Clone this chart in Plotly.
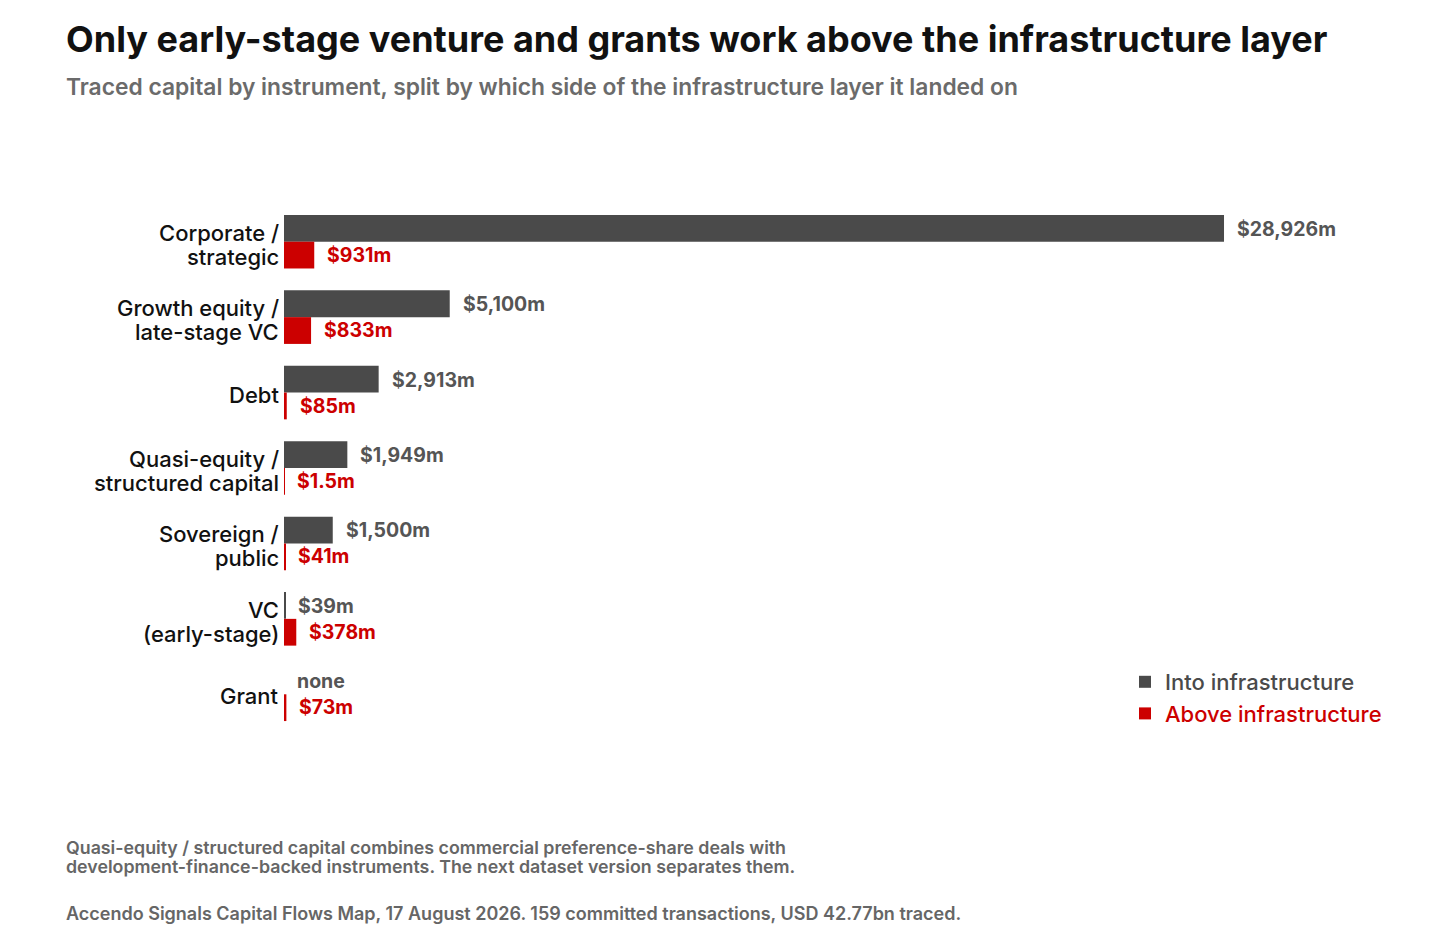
import plotly.graph_objects as go

# datos (millones USD)
instrumentos = ["Corporate / strategic", "Growth equity / late-stage VC", "Debt",
                "Quasi-equity / structured capital", "Sovereign / public",
                "VC (early-stage)", "Grant"]
etiquetas_eje = [["Corporate /", "strategic"], ["Growth equity /", "late-stage VC"], ["Debt"],
                 ["Quasi-equity /", "structured capital"], ["Sovereign /", "public"],
                 ["VC", "(early-stage)"], ["Grant"]]
into_infra = [28926, 5100, 2913, 1949, 1500, 39, 0]
above_infra = [931, 833, 85, 1.5, 41, 378, 73]

GRIS = "#4a4a4a"
ROJO = "#cc0000"
FUENTE = "Inter"

W, H = 1455, 952
OFF = 8  # margen del body en la pagina
L, T = 284 - OFF, 204 - OFF
plot_w, plot_h = 1101, 528
R = W - L - plot_w
B = H - T - plot_h


def px_x(p):
    return (p - OFF - L) / plot_w


def px_y(p):
    return (T + plot_h - (p - OFF)) / plot_h


def etiqueta(v):
    if v == 0:
        return "none"
    if v < 10 and v != int(v):
        return f"${v:.1f}m"
    return f"${v:,.0f}m"


fig = go.Figure()
fig.add_trace(go.Bar(y=instrumentos, x=into_infra, orientation="h", name="Into infrastructure",
                     marker=dict(color=GRIS, line=dict(width=0)), hoverinfo="skip"))
fig.add_trace(go.Bar(y=instrumentos, x=above_infra, orientation="h",
                     name=f"<span style='color:{ROJO}'>Above infrastructure</span>",
                     marker=dict(color=ROJO, line=dict(width=0)), hoverinfo="skip"))

anotaciones = []
# etiquetas del eje y (una anotacion por linea para controlar el interlineado)
for cat, lineas in zip(instrumentos, etiquetas_eje):
    shifts = [9, -15] if len(lineas) == 2 else [-2]
    for linea, ys in zip(lineas, shifts):
        anotaciones.append(dict(x=0, y=cat, xref="x", yref="y", text=linea, showarrow=False,
                                xanchor="right", xshift=-3, yshift=ys,
                                font=dict(family=FUENTE, size=22, color="#111111", weight=550)))

# etiquetas de valor al final de cada barra
for cat, v1, v2 in zip(instrumentos, into_infra, above_infra):
    anotaciones.append(dict(x=v1, y=cat, xref="x", yref="y", text=etiqueta(v1), showarrow=False,
                            xanchor="left", xshift=11, yshift=13,
                            font=dict(family=FUENTE, size=19.5, color="#555555", weight=700)))
    anotaciones.append(dict(x=v2, y=cat, xref="x", yref="y", text=etiqueta(v2), showarrow=False,
                            xanchor="left", xshift=11, yshift=-13,
                            font=dict(family=FUENTE, size=19.5, color=ROJO, weight=700)))


def texto(y, txt, size, color, weight):
    return dict(x=px_x(64), y=px_y(y), xref="paper", yref="paper", xanchor="left", yanchor="middle",
                text=txt, showarrow=False,
                font=dict(family=FUENTE, size=size, color=color, weight=weight))


# titulo, subtitulo y notas
anotaciones += [
    texto(39, "Only early-stage venture and grants work above the infrastructure layer", 36, "#111111", 700),
    texto(87, "Traced capital by instrument, split by which side of the infrastructure layer it landed on",
          22.8, "#6b6b6b", 600),
    texto(847, "Quasi-equity / structured capital combines commercial preference-share deals with",
          17.8, "#666666", 600),
    texto(866, "development-finance-backed instruments. The next dataset version separates them.",
          17.8, "#666666", 600),
    texto(913, "Accendo Signals Capital Flows Map, 17 August 2026. 159 committed transactions, USD 42.77bn traced.",
          18, "#666666", 600),
]

fig.update_layout(
    width=W, height=H,
    margin=dict(l=L, r=R, t=T, b=B, autoexpand=False),
    paper_bgcolor="white", plot_bgcolor="white",
    barmode="group", bargap=0.29, bargroupgap=0,
    font=dict(family=FUENTE),
    showlegend=True,
    legend=dict(x=px_x(1125), y=px_y(661), xanchor="left", yanchor="top", bgcolor="rgba(0,0,0,0)",
                font=dict(family=FUENTE, size=22, color=GRIS, weight=500), itemwidth=30, tracegroupgap=4),
    annotations=anotaciones,
    xaxis=dict(range=[0, 33880], visible=False, showgrid=False, zeroline=False),
    yaxis=dict(autorange="reversed", showgrid=False, zeroline=False, showline=False, ticks="",
               showticklabels=False, automargin=False),
)

fig.write_html("out.html")
